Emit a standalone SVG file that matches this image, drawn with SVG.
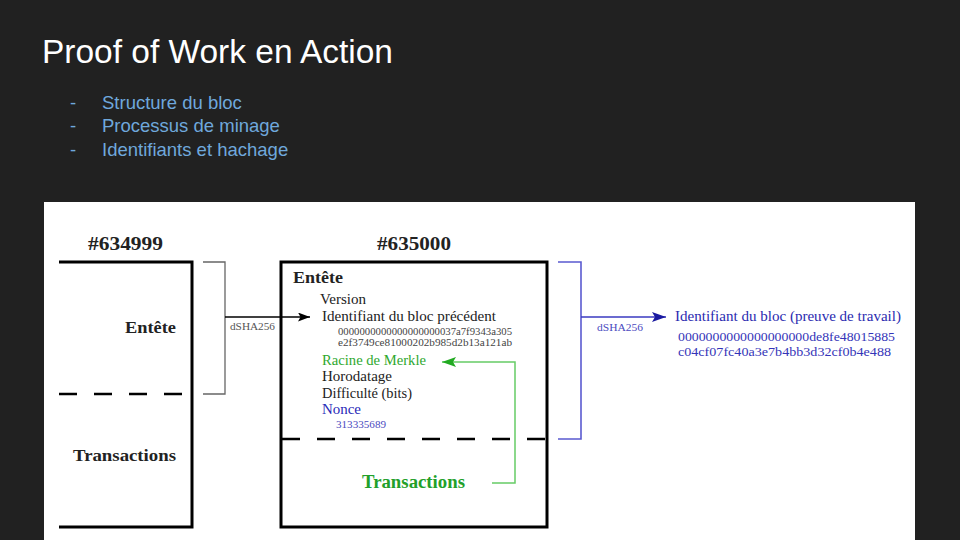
<svg xmlns="http://www.w3.org/2000/svg" width="960" height="540" viewBox="0 0 960 540">
<defs>
<style>
.t{font-family:"Liberation Sans",Arial,sans-serif}
.s{font-family:"Liberation Serif","DejaVu Serif",serif}
.b{font-weight:bold}
.bul{font-size:18.5px;fill:#6fa8dc}
.blk{fill:none;stroke:#000;stroke-width:3}
.dash{stroke:#000;stroke-width:2.5;stroke-dasharray:18,17;fill:none}
.item{font-size:14px;fill:#222}
.hash{font-size:10.5px;fill:#444}
</style>
<marker id="ak" markerWidth="12" markerHeight="9" refX="12" refY="4.5" orient="auto" markerUnits="userSpaceOnUse"><path d="M0,0 L12,4.5 L0,9 L2.5,4.5 Z" fill="#000"/></marker>
<marker id="ag" markerWidth="14" markerHeight="10" refX="14" refY="5" orient="auto" markerUnits="userSpaceOnUse"><path d="M0,0 L14,5 L0,10 L3,5 Z" fill="#22aa22"/></marker>
<marker id="ab" markerWidth="14" markerHeight="10" refX="14" refY="5" orient="auto" markerUnits="userSpaceOnUse"><path d="M0,0 L14,5 L0,10 L3,5 Z" fill="#1a1aa0"/></marker>
</defs>
<rect width="960" height="540" fill="#212121"/>
<text class="t" x="42" y="63" font-size="33" fill="#fff" textLength="351" lengthAdjust="spacingAndGlyphs">Proof of Work en Action</text>
<g class="t bul">
<text x="70" y="109">-</text><text x="102" y="109">Structure du bloc</text>
<text x="70" y="132">-</text><text x="102" y="132">Processus de minage</text>
<text x="70" y="156">-</text><text x="102" y="156">Identifiants et hachage</text>
</g>
<rect x="44" y="202" width="871" height="338" fill="#fff"/>

<g id="block634999">
<text class="s b" x="88" y="250" font-size="19" fill="#222" textLength="75" lengthAdjust="spacingAndGlyphs">#634999</text>
<path class="blk" d="M59,262 H192 V527 H59"/>
<line class="dash" x1="59" y1="394" x2="190" y2="394"/>
<text class="s b" x="125" y="333" font-size="17" fill="#222" textLength="51" lengthAdjust="spacingAndGlyphs">Entête</text>
<text class="s b" x="73" y="461" font-size="17" fill="#222" textLength="103" lengthAdjust="spacingAndGlyphs">Transactions</text>
</g>

<g id="block635000">
<text class="s b" x="377" y="250" font-size="19" fill="#222" textLength="74" lengthAdjust="spacingAndGlyphs">#635000</text>
<rect class="blk" x="281" y="262" width="266" height="265"/>
<line class="dash" x1="282" y1="439" x2="546" y2="439"/>
<text class="s b" x="293" y="283" font-size="17" fill="#222" textLength="50" lengthAdjust="spacingAndGlyphs">Entête</text>
<text class="s item" x="320" y="304" textLength="46" lengthAdjust="spacingAndGlyphs">Version</text>
<text class="s item" x="322" y="321" textLength="174" lengthAdjust="spacingAndGlyphs">Identifiant du bloc précédent</text>
<text class="s hash" x="338" y="335" textLength="174" lengthAdjust="spacingAndGlyphs">0000000000000000000037a7f9343a305</text>
<text class="s hash" x="338" y="346" textLength="174" lengthAdjust="spacingAndGlyphs">e2f3749ce81000202b985d2b13a121ab</text>
<text class="s" x="322" y="365" font-size="14" fill="#2ea82e" textLength="104" lengthAdjust="spacingAndGlyphs">Racine de Merkle</text>
<text class="s item" x="322" y="381" textLength="70" lengthAdjust="spacingAndGlyphs">Horodatage</text>
<text class="s item" x="322" y="398" textLength="90" lengthAdjust="spacingAndGlyphs">Difficulté (bits)</text>
<text class="s" x="322" y="414" font-size="14" fill="#2a2ab8" textLength="39" lengthAdjust="spacingAndGlyphs">Nonce</text>
<text class="s" x="336" y="428" font-size="10.5" fill="#4a4ac0" textLength="50" lengthAdjust="spacingAndGlyphs">313335689</text>
<text class="s b" x="362" y="488" font-size="18" fill="#22a02a" textLength="103" lengthAdjust="spacingAndGlyphs">Transactions</text>
</g>

<g id="result">
<text class="s" x="675" y="321" font-size="14" fill="#2a2ab0" textLength="226" lengthAdjust="spacingAndGlyphs">Identifiant du bloc (preuve de travail)</text>
<text class="s" x="678" y="341" font-size="13" fill="#3434b8" textLength="217" lengthAdjust="spacingAndGlyphs">0000000000000000000de8fe48015885</text>
<text class="s" x="678" y="356" font-size="13" fill="#3434b8" textLength="213" lengthAdjust="spacingAndGlyphs">c04cf07fc40a3e7b4bb3d32cf0b4e488</text>
</g>

<g id="connectors">
<path d="M203,262 H225 V394 H203" fill="none" stroke="#666" stroke-width="1.3"/>
<line x1="225" y1="317" x2="310" y2="317" stroke="#000" stroke-width="1.3" marker-end="url(#ak)"/>
<text class="s" x="230" y="330" font-size="10" fill="#555" textLength="45" lengthAdjust="spacingAndGlyphs">dSHA256</text>
<path d="M492,483 H515 V362 H442" fill="none" stroke="#66cc66" stroke-width="1.5" marker-end="url(#ag)"/>
<path d="M558,262 H581 V439 H558" fill="none" stroke="#5a5ad0" stroke-width="1.6"/>
<line x1="581" y1="317" x2="666" y2="317" stroke="#3a3ac0" stroke-width="1.6" marker-end="url(#ab)"/>
<text class="s" x="597" y="331" font-size="10" fill="#4a4ac0" textLength="46" lengthAdjust="spacingAndGlyphs">dSHA256</text>
</g>
</svg>
